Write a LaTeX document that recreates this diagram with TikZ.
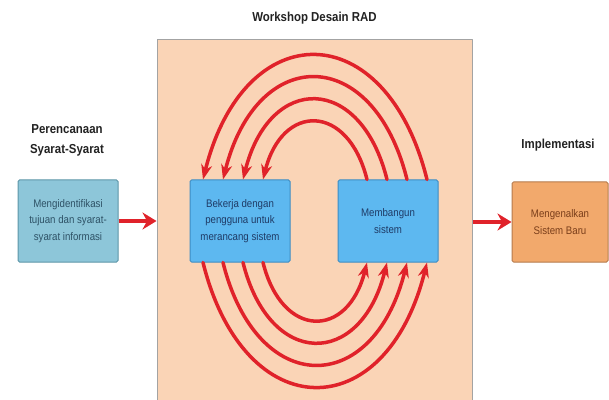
\documentclass[tikz,border=0pt]{standalone}
\usepackage{fontspec}
\setmainfont{Liberation Sans}[FakeStretch=0.88]
\usetikzlibrary{arrows.meta,positioning}
\definecolor{peach}{HTML}{FAD4B6}
\definecolor{wsgray}{HTML}{A3A3A3}
\definecolor{planblue}{HTML}{8DC6D9}
\definecolor{planedge}{HTML}{5D95A7}
\definecolor{plantext}{HTML}{2E5266}
\definecolor{skyblue}{HTML}{5DB8F0}
\definecolor{skyedge}{HTML}{3D8CC2}
\definecolor{skytext}{HTML}{1F3B66}
\definecolor{orangebox}{HTML}{F2A96C}
\definecolor{orangeedge}{HTML}{B57A4C}
\definecolor{orangetext}{HTML}{7A3E1A}
\definecolor{arrowred}{HTML}{E0222A}
\definecolor{headtext}{HTML}{222222}
\begin{document}
\begin{tikzpicture}[x=1pt,y=1pt,line cap=round,line join=round,
	box/.style={draw,rounded corners=1.5pt,line width=1pt,minimum width=100pt,minimum height=82pt,align=center,font=\fontsize{11}{16.5}\selectfont},
	head/.style={align=center,text=headtext,font=\fontsize{13}{20}\selectfont\bfseries},
	flow/.style={draw=arrowred,line width=4.5pt,line cap=butt,-{Stealth[length=14pt,width=17pt]}},
	iter/.style={draw=arrowred,line width=3.5pt,-{Stealth[length=15pt,width=11pt]}}]
	\useasboundingbox (0,0) rectangle (609,399);
	\node[draw=wsgray,fill=peach,line width=1pt,minimum width=315pt,minimum height=365pt,inner sep=0pt] (ws) at (314.5,176.5) {};
	\node[head] (judul) at (314.5,381) {Workshop Desain RAD};
	\node[box,fill=planblue,draw=planedge,text=plantext] (rencana) at (68,178) {Mengidentifikasi\\tujuan dan syarat-\\syarat informasi};
	\node[head] (perencanaan) at (67,259) {Perencanaan\\Syarat-Syarat};
	\node[box,fill=skyblue,draw=skyedge,text=skytext] (kerja) at (240,178) {Bekerja dengan\\pengguna untuk\\merancang sistem};
	\node[box,fill=skyblue,draw=skyedge,text=skytext] (bangun) at (388,178) {Membangun\\sistem};
	\node[box,fill=orangebox,draw=orangeedge,text=orangetext,minimum width=96pt,minimum height=80pt] (baru) at (560,177) {Mengenalkan\\Sistem Baru};
	\node[head] (implementasi) at (558,254) {Implementasi};
	\draw[flow] (rencana.east) -- (rencana.east -| ws.west);
	\draw[flow] (ws.east |- baru.west) -- (baru.west);
	\foreach \r in {112,92,72,52}{
		\draw[iter] ([xshift={(\r-73)*1pt}]bangun.north) to[out=104,in=76,looseness=1.95] ([xshift={(75-\r)*1pt}]kerja.north);
		\draw[iter] ([xshift={(75-\r)*1pt}]kerja.south) to[out=-76,in=-104,looseness=1.95] ([xshift={(\r-73)*1pt}]bangun.south);
	}
\end{tikzpicture}
\end{document}
